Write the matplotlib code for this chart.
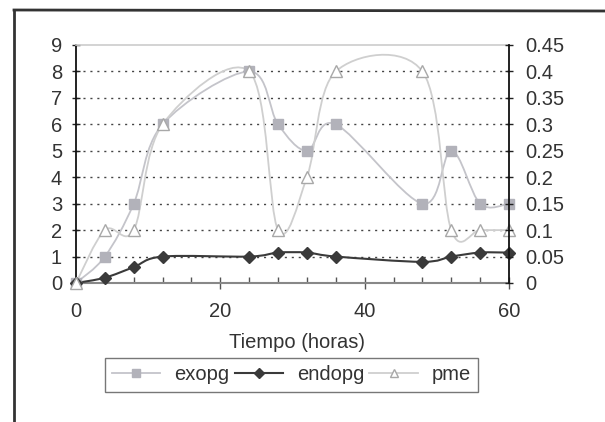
import numpy as np
import matplotlib
matplotlib.use("Agg")
import matplotlib.pyplot as plt
from matplotlib.path import Path
from matplotlib.patches import PathPatch
from matplotlib.lines import Line2D

plt.rcParams['font.family'] = ['Liberation Sans', 'DejaVu Sans']

# ---- data ----
tiempo = [0, 4, 8, 12, 24, 28, 32, 36, 48, 52, 56, 60]
exopg = [0, 1, 3, 6, 8, 6, 5, 6, 3, 5, 3, 3]
endopg = [0, 0.2, 0.6, 1.0, 1.0, 1.15, 1.15, 1.0, 0.8, 1.0, 1.15, 1.15]
pme = [0, 2, 2, 6, 8, 2, 4, 8, 8, 2, 2, 2]
left_ticks = list(range(0, 10))
right_ticks = [0, 0.05, 0.1, 0.15, 0.2, 0.25, 0.3, 0.35, 0.4, 0.45]
right_labels = ['0', '0.05', '0.1', '0.15', '0.2', '0.25', '0.3', '0.35', '0.4', '0.45']
x_ticks = [0, 20, 40, 60]

FS = 14.5


def smooth_path(x, y):
    p = np.column_stack([x, y]).astype(float)
    n = len(p)
    verts = [p[0]]
    codes = [Path.MOVETO]
    for i in range(n - 1):
        p0 = p[i - 1] if i > 0 else p[i]
        p1 = p[i]
        p2 = p[i + 1]
        p3 = p[i + 2] if i + 2 < n else p[i + 1]
        c1 = p1 + (p2 - p0) / 6.0
        c2 = p2 - (p3 - p1) / 6.0
        verts += [c1, c2, p2]
        codes += [Path.CURVE4] * 3
    return Path(verts, codes)


fig = plt.figure(figsize=(6.05, 4.22), dpi=100)
ax = fig.add_axes([76 / 605, 1 - 283 / 422, (509 - 76) / 605, (283 - 45) / 422])

# grid
for v in left_ticks[1:-1]:
    ax.axhline(v, color='#444444', lw=1.0, ls=(0, (1.5, 3.5)), zorder=1)

styles = {
    'exopg': dict(line='#c4c4ca', lw=1.3, marker='s', ms=7, mfc='#b2b2ba', mec='#b2b2ba'),
    'endopg': dict(line='#3a3a3a', lw=1.5, marker='D', ms=6.5, mfc='#3a3a3a', mec='#3a3a3a'),
    'pme': dict(line='#cfcfcf', lw=1.3, marker='^', ms=8, mfc='white', mec='#a8a8a8'),
}
series = [('exopg', exopg), ('endopg', endopg), ('pme', pme)]
handles = []
for name, vals in series:
    s = styles[name]
    ax.add_patch(PathPatch(smooth_path(tiempo, vals), fill=False, edgecolor=s['line'],
                           lw=s['lw'], zorder=3 if name != 'endopg' else 4))
    ax.plot(tiempo, vals, linestyle='none', marker=s['marker'], ms=s['ms'],
            mfc=s['mfc'], mec=s['mec'], mew=1.0, zorder=5, clip_on=False)
    handles.append(Line2D([], [], color=s['line'], lw=s['lw'], marker=s['marker'],
                          ms=s['ms'] * 0.8, mfc=s['mfc'], mec=s['mec'], label=name))

ax.set_xlim(0, 60)
ax.set_ylim(0, 9)
ax.set_xticks(x_ticks)
ax.set_xticks(np.arange(0, 61, 4), minor=True)
ax.set_yticks(left_ticks)
ax.tick_params(axis='y', direction='inout', length=6, width=1, labelsize=FS,
               colors='#222222', labelcolor='#333333', pad=7)
ax.tick_params(axis='x', which='major', direction='inout', length=8, width=1,
               labelsize=FS, colors='#555555', labelcolor='#333333', pad=10)
ax.tick_params(axis='x', which='minor', direction='in', length=4, width=1, colors='#555555')

ax.spines['left'].set_color('#111111')
ax.spines['left'].set_linewidth(1.3)
ax.spines['bottom'].set_color('#888888')
ax.spines['bottom'].set_linewidth(1.5)
ax.spines['top'].set_color('#cccccc')
ax.spines['top'].set_linewidth(1.2)
ax.spines['right'].set_visible(False)

ax2 = ax.twinx()
ax2.set_ylim(0, 0.45)
ax2.set_yticks(right_ticks)
ax2.set_yticklabels(right_labels)
ax2.tick_params(axis='y', direction='inout', length=6, width=1, labelsize=FS,
                colors='#222222', labelcolor='#333333', pad=9)
for sp in ['left', 'top', 'bottom']:
    ax2.spines[sp].set_visible(False)
ax2.spines['right'].set_color('#111111')
ax2.spines['right'].set_linewidth(1.3)

fig.text(297 / 605, 1 - 343 / 422, 'Tiempo (horas)', ha='center', va='center',
         fontsize=FS, color='#333333')

leg = fig.legend(handles=handles, loc='center', bbox_to_anchor=(291.5 / 605, 1 - 375 / 422),
                 ncol=3, fontsize=FS, frameon=True, fancybox=False, handlelength=2.4,
                 handletextpad=0.7, columnspacing=0.25, borderpad=0.35)
leg.get_frame().set_edgecolor('#555555')
leg.get_frame().set_linewidth(1.0)
for t in leg.get_texts():
    t.set_color('#333333')

# outer border (top and left)
fig.add_artist(Line2D([14 / 605, 1.0], [1 - 10 / 422, 1 - 11 / 422], transform=fig.transFigure,
                      color='#333333', lw=2))
fig.add_artist(Line2D([14 / 605, 14 / 605], [1 - 10 / 422, 0], transform=fig.transFigure,
                      color='#333333', lw=2))

fig.savefig('out.png', dpi=100, facecolor='white')
